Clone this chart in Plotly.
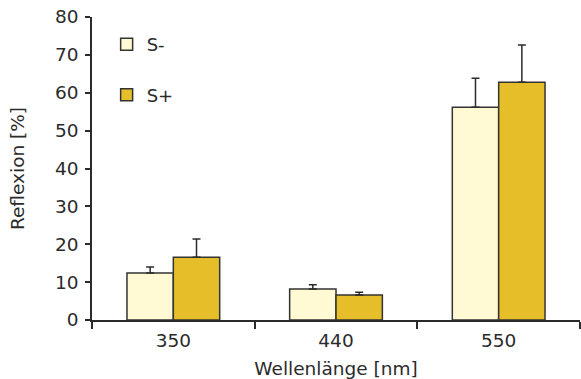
import plotly.graph_objects as go

categories = ["350", "440", "550"]
s_minus = [12.4, 8.2, 56.2]
s_minus_err = [1.6, 1.1, 7.6]
s_plus = [16.6, 6.6, 62.8]
s_plus_err = [4.8, 0.7, 9.8]
y_ticks = [0, 10, 20, 30, 40, 50, 60, 70, 80]

font_family = "DejaVu Sans, Verdana, sans-serif"
dark = "#2b2b2b"

fig = go.Figure()
fig.add_trace(go.Bar(
    name="S-", x=categories, y=s_minus, legendgroup="a",
    marker=dict(color="#FFF9D4", line=dict(color="#333333", width=1.5)),
    error_y=dict(type="data", array=s_minus_err, arrayminus=[0, 0, 0], symmetric=False,
                 color=dark, thickness=1.5, width=4),
))
fig.add_trace(go.Bar(
    name="S+", x=categories, y=s_plus, legendgroup="b",
    marker=dict(color="#E5BE2A", line=dict(color="#333333", width=1.5)),
    error_y=dict(type="data", array=s_plus_err, arrayminus=[0, 0, 0], symmetric=False,
                 color=dark, thickness=1.5, width=4),
))

fig.update_layout(
    width=581, height=379,
    margin=dict(l=92, r=1, t=17, b=59),
    paper_bgcolor="white", plot_bgcolor="white",
    font=dict(family=font_family, size=18, color=dark),
    barmode="group", bargap=0.43, bargroupgap=0,
    showlegend=True,
    legend=dict(x=0.03, y=0.97, xanchor="left", yanchor="top",
                traceorder="grouped", tracegroupgap=24,
                bgcolor="rgba(0,0,0,0)", font=dict(size=18, color=dark)),
    xaxis=dict(
        type="category", tickson="boundaries", ticks="outside", ticklen=7,
        tickwidth=1.5, tickcolor=dark, showline=True, linecolor=dark, linewidth=2,
        showgrid=False, range=[-0.5, 2.5], automargin=False, ticklabelstandoff=3,
        title=dict(text="Wellenlänge [nm]", font=dict(size=18.5), standoff=15),
        tickfont=dict(size=18.5),
    ),
    yaxis=dict(
        range=[0, 80], tickvals=y_ticks, ticks="outside", ticklen=5, tickwidth=1.5,
        tickcolor=dark, showline=True, linecolor=dark, linewidth=1.5,
        showgrid=False, zeroline=False, automargin=False, ticklabelstandoff=3,
        title=dict(text="Reflexion [%]", font=dict(size=18.5), standoff=26),
        tickfont=dict(size=18.5),
    ),
)

# remove the browser's default 8px body margin so the figure fills the window
fig.write_html("out.html", config={"displayModeBar": False},
               post_script="document.body.style.margin='0px';")
